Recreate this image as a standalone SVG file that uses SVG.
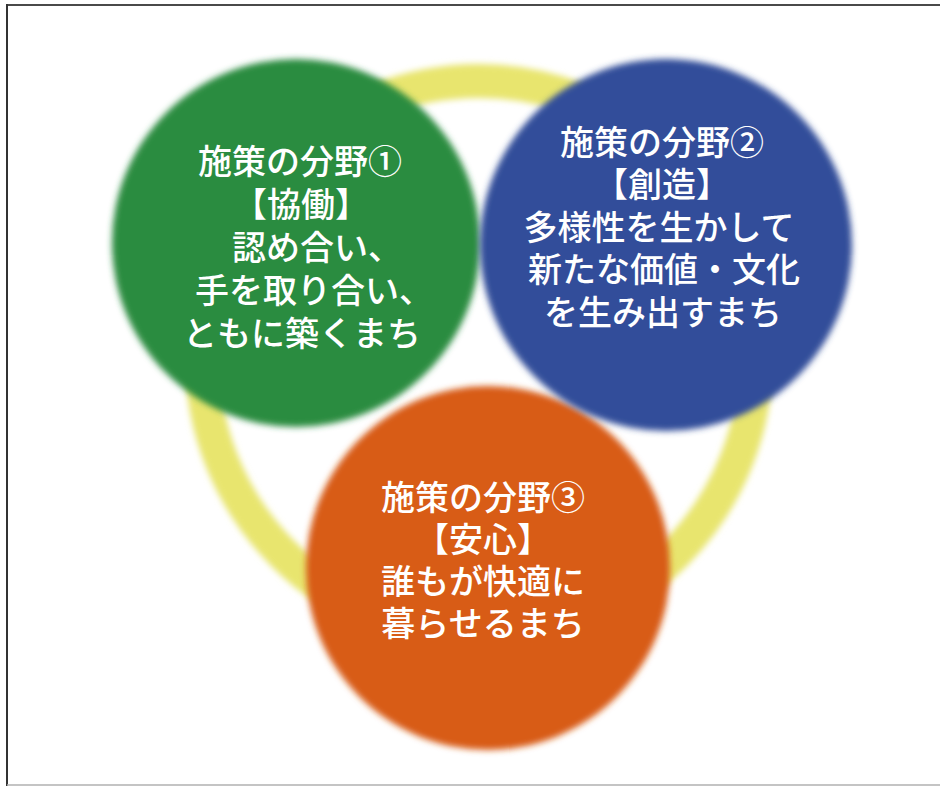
<svg xmlns="http://www.w3.org/2000/svg" width="940" height="786" viewBox="0 0 940 786">
  <defs>
    <filter id="soft" x="-10%" y="-10%" width="120%" height="120%">
      <feGaussianBlur stdDeviation="3"/>
    </filter>
  </defs>
  <style>
    .lbl { font-family: "Noto Sans CJK JP", "Noto Sans", sans-serif; font-size: 34px; font-weight: 500; fill: #ffffff; text-anchor: middle; }
  </style>
  <rect x="0" y="0" width="940" height="786" fill="#ffffff"/>
  <g id="frame">
    <line x1="6" y1="5" x2="940" y2="5" stroke="#4a4a4a" stroke-width="2"/>
    <line x1="7" y1="4" x2="7" y2="786" stroke="#333333" stroke-width="2"/>
    <line x1="7" y1="785" x2="940" y2="785" stroke="#b0b0b0" stroke-width="1.5"/>
  </g>
  <g id="connectors">
    <circle cx="479" cy="358" r="277" fill="none" stroke="#e8e56e" stroke-width="34" filter="url(#soft)"/>
  </g>
  <g id="node-anshin">
    <circle cx="488" cy="568" r="182" fill="#d85c19" filter="url(#soft)"/>
  </g>
  <g id="node-kyodo">
    <circle cx="296" cy="243" r="184" fill="#2a8c3f" filter="url(#soft)"/>
    <text class="lbl" x="300" y="174">施策の分野①</text>
    <text class="lbl" x="301" y="217">【協働】</text>
    <text class="lbl" x="317" y="260">認め合い、</text>
    <text class="lbl" x="314" y="303">手を取り合い、</text>
    <text class="lbl" x="302" y="346">ともに築くまち</text>
  </g>
  <g id="node-sozo">
    <circle cx="666" cy="245" r="186" fill="#304d9a" filter="url(#soft)"/>
    <text class="lbl" x="662" y="155">施策の分野②</text>
    <text class="lbl" x="662" y="197">【創造】</text>
    <text class="lbl" x="659" y="240">多様性を生かして</text>
    <text class="lbl" x="664" y="282">新たな価値・文化</text>
    <text class="lbl" x="663" y="325">を生み出すまち</text>
  </g>
  <g id="node-anshin-text">
    <text class="lbl" x="483" y="510">施策の分野③</text>
    <text class="lbl" x="483" y="552">【安心】</text>
    <text class="lbl" x="483" y="594">誰もが快適に</text>
    <text class="lbl" x="483" y="636">暮らせるまち</text>
  </g>
</svg>
